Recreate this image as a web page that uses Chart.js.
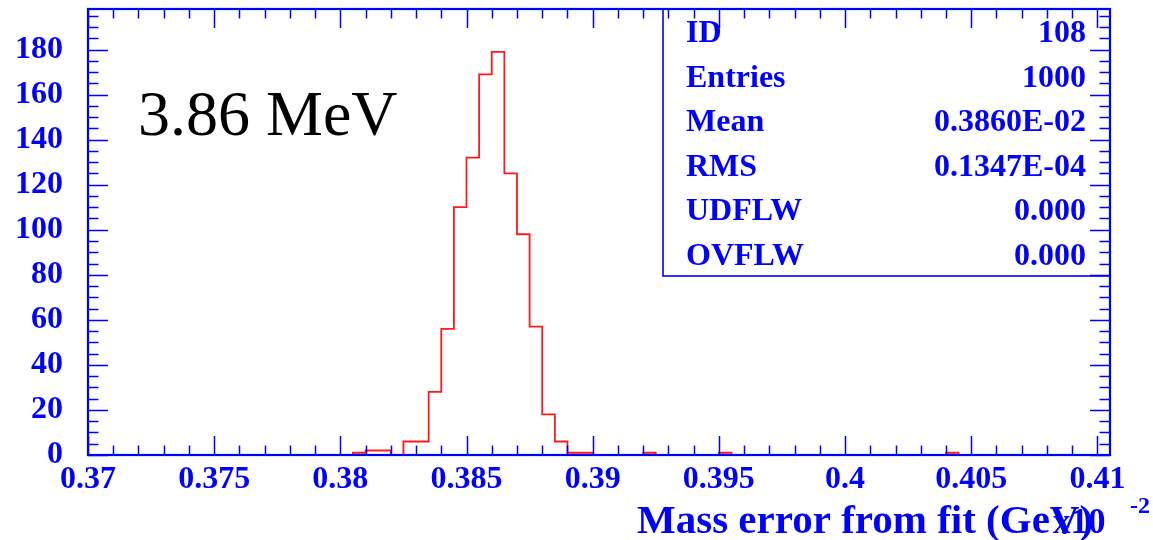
<!DOCTYPE html>
<html>
<head>
<meta charset="utf-8">
<script src="https://cdn.jsdelivr.net/npm/chart.js@4.4.1/dist/chart.umd.min.js"></script>
<style>
  html, body { margin: 0; padding: 0; background: #fff; }
</style>
</head>
<body>
<canvas id="hist" width="1153" height="540"></canvas>
<script>
// histogram 108: left edges of the filled bins and their contents
const binWidth = 0.0005;
const binLow = [ 0.3805, 0.381, 0.3815, 0.382, 0.3825, 0.383, 0.3835, 0.384, 0.3845, 0.385, 0.3855,
  0.386, 0.3865, 0.387, 0.3875, 0.388, 0.3885, 0.389, 0.3895, 0.392, 0.395, 0.404 ];
const binCount = [ 1, 2, 2, 0, 6, 6, 28, 56, 110, 132, 169,
  179, 125, 98, 57, 18, 6, 1, 1, 1, 1, 1 ];

const xRange = [ 0.37, 0.4105 ];
const yRange = [ 0, 198 ];
const xTickValues = [ 0.37, 0.375, 0.38, 0.385, 0.39, 0.395, 0.4, 0.405, 0.41 ];
const xTickLabels = [ '0.37', '0.375', '0.38', '0.385', '0.39', '0.395', '0.4', '0.405', '0.41' ];
const yTickValues = [ 0, 20, 40, 60, 80, 100, 120, 140, 160, 180 ];
const yTickLabels = [ '0', '20', '40', '60', '80', '100', '120', '140', '160', '180' ];

const statNames = [ 'ID', 'Entries', 'Mean', 'RMS', 'UDFLW', 'OVFLW' ];
const statValues = [ '108', '1000', '0.3860E-02', '0.1347E-04', '0.000', '0.000' ];

const BLUE = '#0000ff';
const SERIF = '"Liberation Serif", "DejaVu Serif", serif';

// outline points for a step-before line, dropping to zero between separated bins
const stepPoints = [ { x: xRange[ 0 ], y: 0 } ];
let lastHigh = xRange[ 0 ];
binLow.forEach( ( low, i ) => {
  if ( low - lastHigh > 1e-9 ) {
    stepPoints.push( { x: lastHigh, y: 0 } );
  }
  stepPoints.push( { x: low, y: binCount[ i ] } );
  lastHigh = low + binWidth;
} );
stepPoints.push( { x: lastHigh, y: 0 }, { x: xRange[ 1 ], y: 0 } );

const pawFrame = {
  id: 'pawFrame',
  afterDatasetsDraw( chart ) {
    const { ctx, chartArea: area, scales: { x, y } } = chart;
    ctx.save();
    ctx.strokeStyle = BLUE;
    ctx.fillStyle = BLUE;

    // inward ticks on all four sides
    ctx.lineWidth = 1.5;
    ctx.beginPath();
    for ( let k = 0; k <= 40; k++ ) {
      const v = 0.37 + k * 0.001;
      const px = Math.round( x.getPixelForValue( v ) ) + 0.5;
      const len = ( k % 5 === 0 ) ? 19 : 9.5;
      ctx.moveTo( px, area.bottom );
      ctx.lineTo( px, area.bottom - len );
      ctx.moveTo( px, area.top );
      ctx.lineTo( px, area.top + len );
    }
    for ( let v = 0; v < yRange[ 1 ]; v += 5 ) {
      const py = Math.round( y.getPixelForValue( v ) ) + 0.5;
      const len = ( v % 20 === 0 ) ? 20 : 10.5;
      ctx.moveTo( area.left, py );
      ctx.lineTo( area.left + len, py );
      ctx.moveTo( area.right, py );
      ctx.lineTo( area.right - len, py );
    }
    ctx.stroke();

    ctx.lineWidth = 2.2;
    ctx.strokeRect( area.left, area.top, area.right - area.left, area.bottom - area.top );

    // statistics box
    ctx.lineWidth = 1.6;
    ctx.strokeRect( 663, area.top, area.right - 663, 276 - area.top );
    ctx.font = 'bold 32px ' + SERIF;
    statNames.forEach( ( name, i ) => {
      const base = 42 + i * 44.6;
      ctx.textAlign = 'left';
      ctx.fillText( name, 686, base );
      ctx.textAlign = 'right';
      ctx.fillText( statValues[ i ], 1086, base );
    } );

    // axis title with the overlapping exponent, as PAW prints it
    ctx.textAlign = 'left';
    ctx.font = 'bold 41px ' + SERIF;
    ctx.fillText( 'Mass error from fit (GeV)', 637, 533 );
    ctx.font = 'bold 35px ' + SERIF;
    ctx.fillText( 'x10', 1053, 533 );
    ctx.font = 'bold 24px ' + SERIF;
    ctx.fillText( '-2', 1130, 513 );

    // annotation
    ctx.fillStyle = '#000';
    ctx.font = '64px ' + SERIF;
    ctx.fillText( '3.86 MeV', 138, 135 );
    ctx.restore();
  }
};

new Chart( document.getElementById( 'hist' ), {
  type: 'line',
  data: {
    datasets: [ {
      data: stepPoints,
      stepped: 'before',
      borderColor: '#ff1a1a',
      borderWidth: 1.8,
      pointRadius: 0,
      fill: false,
    } ]
  },
  options: {
    responsive: false,
    animation: false,
    events: [],
    layout: {
      padding: { left: 0, top: 9, right: 43, bottom: 0 }
    },
    plugins: {
      legend: { display: false },
      tooltip: { enabled: false },
    },
    scales: {
      x: {
        type: 'linear',
        min: xRange[ 0 ],
        max: xRange[ 1 ],
        grid: { display: false, drawTicks: false },
        border: { display: false },
        afterFit: ( scale ) => {
          scale.height = 85;
          scale.paddingLeft = 0;
          scale.paddingRight = 0;
        },
        afterBuildTicks: ( scale ) => {
          scale.ticks = xTickValues.map( ( v ) => ( { value: v } ) );
        },
        ticks: {
          autoSkip: false,
          maxRotation: 0,
          padding: 6,
          color: BLUE,
          font: { family: SERIF, weight: 'bold', size: 32 },
          callback: ( value, index ) => xTickLabels[ index ],
        },
      },
      y: {
        min: yRange[ 0 ],
        max: yRange[ 1 ],
        grid: { display: false, drawTicks: false },
        border: { display: false },
        afterFit: ( scale ) => {
          scale.width = 88;
          scale.paddingTop = 0;
          scale.paddingBottom = 0;
        },
        afterBuildTicks: ( scale ) => {
          scale.ticks = yTickValues.map( ( v ) => ( { value: v } ) );
        },
        ticks: {
          padding: 25,
          color: BLUE,
          font: { family: SERIF, weight: 'bold', size: 32 },
          callback: ( value, index ) => yTickLabels[ index ],
        },
      }
    }
  },
  plugins: [ pawFrame ],
} );
</script>
</body>
</html>
